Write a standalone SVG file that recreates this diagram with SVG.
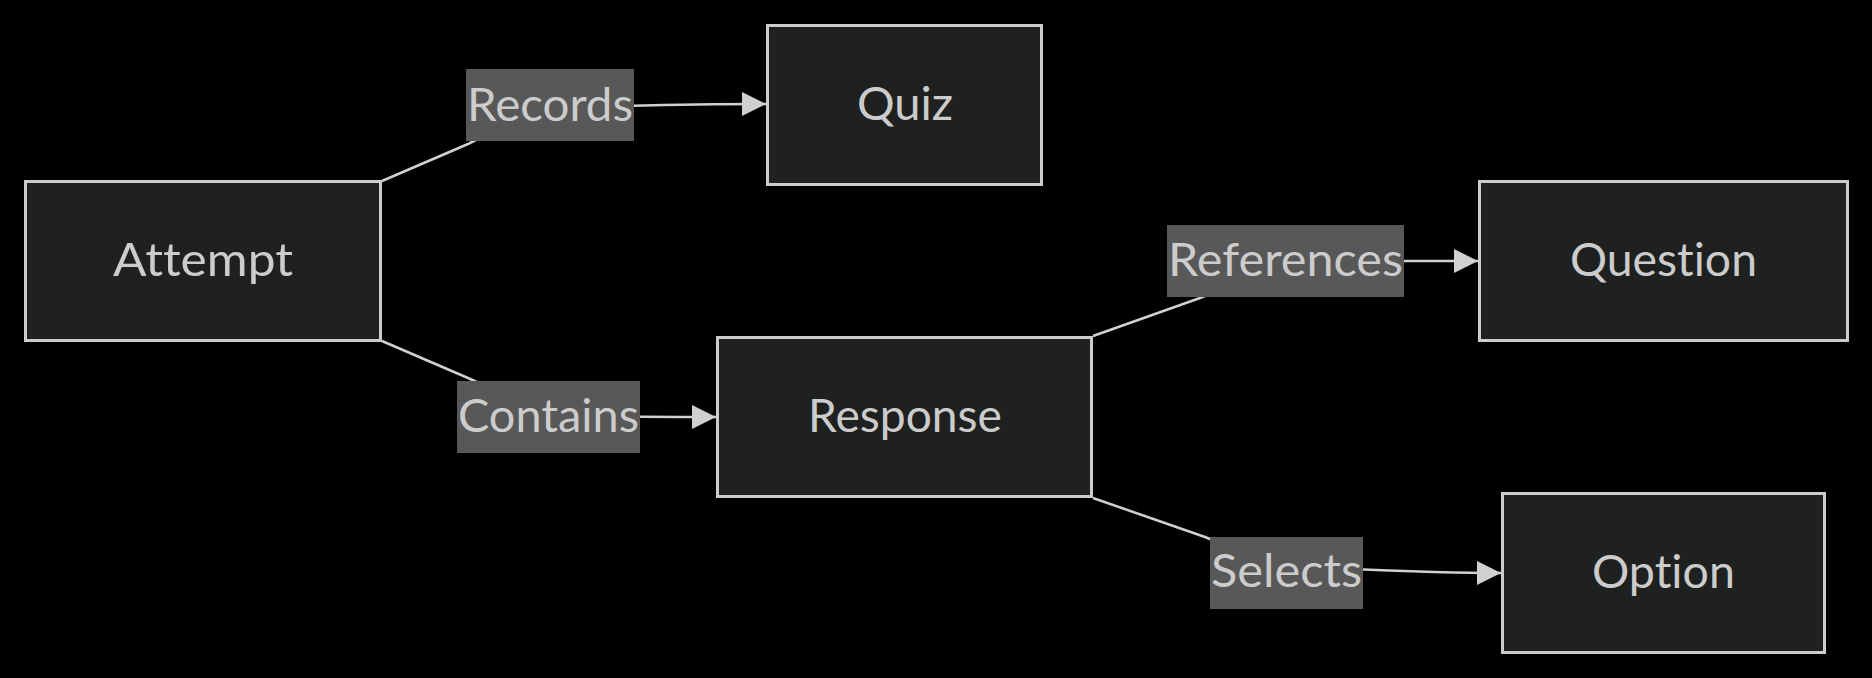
<svg xmlns="http://www.w3.org/2000/svg" width="1872" height="678" viewBox="0 0 1872 678">
<style>
.bg{fill:#000}
.node rect{fill:#1f2020;stroke:#cccccc;stroke-width:3}
.node text{fill:#cccccc;font-family:"Lato","Open Sans","DejaVu Sans",sans-serif;font-size:47px;text-anchor:middle;font-variant-ligatures:none}
.edge{fill:none;stroke:#d0d0d0;stroke-width:2.5}
.elabel rect{fill:#585858}
.elabel text{fill:#cccccc;font-family:"Lato","Open Sans","DejaVu Sans",sans-serif;font-size:47px;text-anchor:middle;font-variant-ligatures:none}
</style>
<defs>
<marker id="arrow" viewBox="0 0 24 24" refX="24" refY="12" markerWidth="24" markerHeight="24" markerUnits="userSpaceOnUse" orient="auto">
<path d="M0,0 L24,12 L0,24 z" fill="#d0d0d0"/>
</marker>
</defs>
<rect class="bg" x="0" y="0" width="1872" height="678"/>
<g id="connectors">
<path class="edge" d="M382,181 L468,144 C505,127 520,110 560,108 C640,105 700,104 766,104" marker-end="url(#arrow)"/>
<path class="edge" d="M382,341 L468,378 C505,394 520,414 560,415.5 C640,417 690,417 716,417" marker-end="url(#arrow)"/>
<path class="edge" d="M1093,336 L1200,298 C1240,283 1255,262 1300,261 L1478,261" marker-end="url(#arrow)"/>
<path class="edge" d="M1093,498 L1205,537 C1240,551 1260,566 1300,567 C1400,571 1440,573 1501,573" marker-end="url(#arrow)"/>
</g>
<g id="label-records" class="elabel"><rect x="466" y="69" width="168" height="72"/><text x="550" y="121" textLength="166" lengthAdjust="spacingAndGlyphs">Records</text></g>
<g id="label-contains" class="elabel"><rect x="457" y="381" width="183" height="72"/><text x="548.5" y="432" textLength="181" lengthAdjust="spacingAndGlyphs">Contains</text></g>
<g id="label-references" class="elabel"><rect x="1167" y="225" width="237" height="72"/><text x="1285.5" y="276" textLength="235" lengthAdjust="spacingAndGlyphs">References</text></g>
<g id="label-selects" class="elabel"><rect x="1210" y="537" width="153" height="72"/><text x="1286.5" y="587" textLength="151" lengthAdjust="spacingAndGlyphs">Selects</text></g>
<g id="node-attempt" class="node"><rect x="25.5" y="181.5" width="355" height="159"/><text x="203" y="276" textLength="180" lengthAdjust="spacingAndGlyphs">Attempt</text></g>
<g id="node-quiz" class="node"><rect x="767.5" y="25.5" width="274" height="159"/><text x="905" y="120" textLength="96" lengthAdjust="spacingAndGlyphs">Quiz</text></g>
<g id="node-response" class="node"><rect x="717.5" y="337.5" width="374" height="159"/><text x="905" y="432" textLength="194" lengthAdjust="spacingAndGlyphs">Response</text></g>
<g id="node-question" class="node"><rect x="1479.5" y="181.5" width="368" height="159"/><text x="1663.5" y="276" textLength="187" lengthAdjust="spacingAndGlyphs">Question</text></g>
<g id="node-option" class="node"><rect x="1502.5" y="493.5" width="322" height="159"/><text x="1663.5" y="588" textLength="143" lengthAdjust="spacingAndGlyphs">Option</text></g>
</svg>
